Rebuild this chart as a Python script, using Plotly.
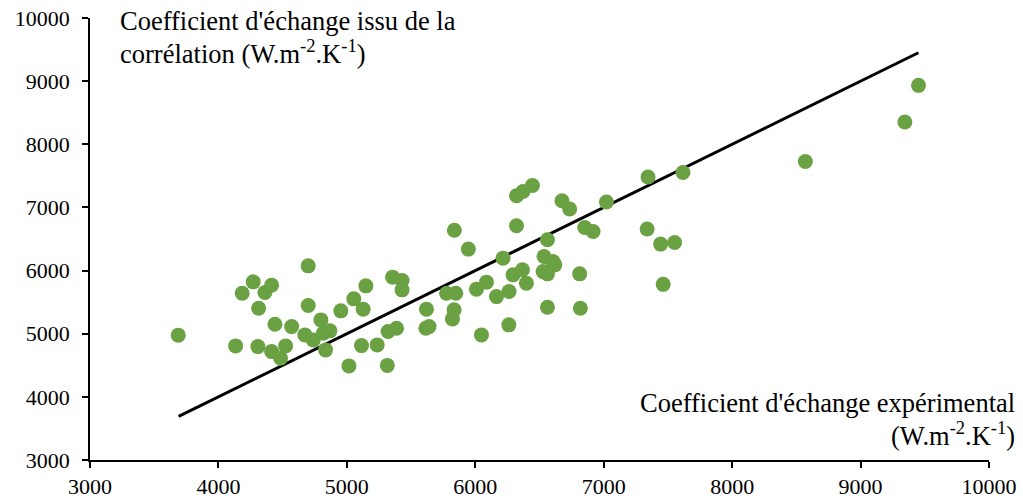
import plotly.graph_objects as go

# Experimental exchange coefficient (W.m-2.K-1)
x_exp = [3687, 4134, 4185, 4271, 4362, 4414, 4313, 4307, 4414, 4484, 4523, 4440, 4570,
         4699, 4699, 4673, 4738, 4798, 4816, 4868, 4834, 4953, 5054, 5148, 5127, 5356,
         5430, 5430, 5016, 5315, 5114, 5236, 5321, 5387, 5837, 5946, 6216, 6321, 6372,
         6445, 6321, 6675, 6735, 7021, 7345, 7617, 6852, 6917, 7338, 7443, 7552, 7463,
         6562, 6535, 6605, 6619, 6528, 6562, 6813, 6818, 6562, 6294, 6367, 6398, 6009,
         6087, 6165, 6263, 5776, 5848, 5620, 5835, 5822, 5615, 5640, 6048, 6261, 9451,
         9345, 8570]
# Exchange coefficient from correlation (W.m-2.K-1)
y_corr = [4977, 4807, 5642, 5821, 5652, 5769, 5404, 4796, 4717, 4612, 4807, 5151, 5113,
          6075, 5446, 4981, 4902, 5219, 5008, 5045, 4744, 5362, 5552, 5758, 5389, 5896,
          5842, 5695, 4490, 4498, 4812, 4823, 5034, 5087, 6638, 6340, 6197, 7184, 7253,
          7348, 6709, 7105, 6974, 7085, 7481, 7554, 6682, 6619, 6658, 6419, 6444, 5782,
          6487, 6222, 6143, 6090, 5984, 5948, 5948, 5404, 5420, 5932, 6012, 5801, 5706,
          5817, 5588, 5668, 5642, 5642, 5389, 5378, 5235, 5087, 5113, 4981, 5140, 8933,
          8353, 7728]
# y = x reference line
line_x = [3690, 9450]
line_y = [3690, 9450]

tick_vals = [3000, 4000, 5000, 6000, 7000, 8000, 9000, 10000]
tick_text = [str(v) for v in tick_vals]

FONT = "Liberation Serif, Times New Roman, serif"

fig = go.Figure()
fig.add_trace(go.Scatter(x=line_x, y=line_y, mode="lines",
                         line=dict(color="black", width=3), showlegend=False,
                         hoverinfo="skip"))
fig.add_trace(go.Scatter(x=x_exp, y=y_corr, mode="markers",
                         marker=dict(color="#6aa142", size=15, line=dict(width=0)),
                         showlegend=False))

axis_common = dict(range=[3000, 10000], tickvals=tick_vals, showgrid=False,
                   zeroline=False, showline=True, linecolor="black", linewidth=1.5,
                   tickcolor="black", tickwidth=1.5, ticklen=6, automargin=False)

tfont = dict(family=FONT, size=22, color="black")
fig.update_layout(
    width=1023, height=502,
    margin=dict(l=90, r=34, t=18, b=42),
    paper_bgcolor="white", plot_bgcolor="white",
    font=dict(family=FONT, size=22, color="black"),
    xaxis=dict(**axis_common, ticks="outside", ticktext=tick_text, tickfont=tfont),
    yaxis=dict(**axis_common, ticks="outside", ticktext=tick_text, tickfont=tfont,
               ticklabelstandoff=8),
    xaxis2=dict(**axis_common, ticks="inside", showticklabels=False,
                overlaying="x", side="bottom"),
    yaxis2=dict(**axis_common, ticks="inside", showticklabels=False,
                overlaying="y", side="left"),
)

ann_font = dict(family=FONT, size=26.5, color="black")
sup = "<sup style='font-size:70%'>"
fig.add_annotation(text="Coefficient d'échange issu de la", xref="paper", yref="paper",
                   x=0.0311, y=0.993, xanchor="left", yanchor="middle",
                   showarrow=False, font=ann_font)
fig.add_annotation(text="corrélation (W.m<sup>-2</sup>.K<sup>-1</sup>)", xref="paper",
                   yref="paper", x=0.0311, y=0.923, xanchor="left", yanchor="middle",
                   showarrow=False, font=ann_font)
fig.add_annotation(text="Coefficient d'échange expérimental", xref="paper", yref="paper",
                   x=1.031, y=0.129, xanchor="right", yanchor="middle",
                   showarrow=False, font=ann_font)
fig.add_annotation(text="(W.m<sup>-2</sup>.K<sup>-1</sup>)", xref="paper", yref="paper",
                   x=1.031, y=0.0588, xanchor="right", yanchor="middle",
                   showarrow=False, font=ann_font)

fig.write_html("out.html", config={"displayModeBar": False},
               post_script="document.body.style.margin='0';document.body.style.overflow='hidden';")
